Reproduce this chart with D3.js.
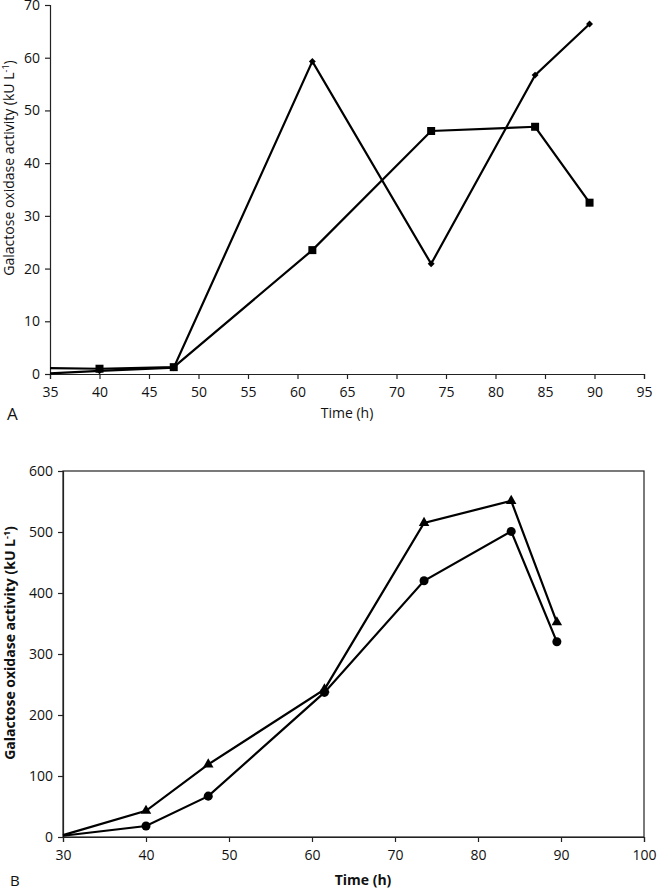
<!DOCTYPE html>
<html><head><meta charset="utf-8">
<script src="https://cdn.jsdelivr.net/npm/d3@7"></script>
<style>body{margin:0;background:#fff}svg{display:block}text{font-family:"Open Sans",sans-serif;fill:#111}</style>
</head><body>
<script>
// Panel A data
const timeA = [35, 40, 47.5, 61.5, 73.5, 84, 89.5];
const diamondA = [0.1, 0.6, 1.2, 59.3, 20.9, 56.7, 66.4];
const squareA = [1.1, 1.0, 1.3, 23.5, 46.1, 46.9, 32.5];
const xTicksA = [35, 40, 45, 50, 55, 60, 65, 70, 75, 80, 85, 90, 95];
const yTicksA = [0, 10, 20, 30, 40, 50, 60, 70];
// Panel B data
const timeB = [30, 40, 47.5, 61.5, 73.5, 84, 89.5];
const triangleB = [3, 43, 119, 242, 515, 551, 352];
const circleB = [2, 18, 67, 237, 420, 501, 320];
const xTicksB = [30, 40, 50, 60, 70, 80, 90, 100];
const yTicksB = [0, 100, 200, 300, 400, 500, 600];
const yLabel = "Galactose oxidase activity (kU L";

const svg = d3.select("body").append("svg").attr("width", 657).attr("height", 890);

function panel(cfg) {
  const g = svg.append("g");
  const x = d3.scaleLinear().domain(cfg.xDomain).range([cfg.left, cfg.right]);
  const y = d3.scaleLinear().domain(cfg.yDomain).range([cfg.bottom, cfg.top]);
  if (cfg.box) {
    g.append("rect").attr("x", cfg.left).attr("y", cfg.top)
      .attr("width", cfg.right - cfg.left).attr("height", cfg.bottom - cfg.top)
      .attr("fill", "none").attr("stroke", "#222").attr("stroke-width", 1.2);
  }
  const xa = g.append("g").attr("transform", `translate(0,${cfg.bottom})`)
    .call(d3.axisBottom(x).tickValues(cfg.xTicks).tickSize(5).tickPadding(8).tickFormat(d3.format("d")));
  const ya = g.append("g").attr("transform", `translate(${cfg.left},0)`)
    .call(d3.axisLeft(y).tickValues(cfg.yTicks).tickSize(5).tickPadding(5).tickFormat(d3.format("d")));
  [xa, ya].forEach(a => {
    a.selectAll("path").attr("stroke", "#222").attr("stroke-width", 1.2);
    a.selectAll("line").attr("stroke", "#222").attr("stroke-width", 1.2);
    a.selectAll("text").style("font-size", "14px").style("font-family", '"Open Sans",sans-serif').attr("fill", "#111");
  });
  const line = d3.line().x((d, i) => x(cfg.time[i])).y(d => y(d));
  cfg.series.forEach(s => {
    g.append("path").datum(s.values).attr("d", line)
      .attr("fill", "none").attr("stroke", "#000").attr("stroke-width", 2.2).attr("stroke-linejoin", "miter");
    const pts = s.values.map((v, i) => [cfg.time[i], v]).filter(p => p[0] > cfg.xDomain[0]);
    g.selectAll(null).data(pts).enter().append("path")
      .attr("d", d3.symbol().type(s.symbol).size(s.size))
      .attr("fill", "#000").attr("transform", p => `translate(${x(p[0])},${y(p[1])})` + (s.rotate ? " rotate(45)" : ""));
  });
  // y label
  const yl = g.append("text").attr("transform", `translate(${cfg.yLabelX},${cfg.yLabelY}) rotate(-90)`)
    .attr("text-anchor", "middle").style("font-size", "14px").style("font-weight", cfg.bold ? "bold" : "normal");
  yl.append("tspan").text(yLabel);
  yl.append("tspan").attr("dy", -5).style("font-size", "9px").text("-1");
  yl.append("tspan").attr("dy", 5).text(")");
  g.append("text").attr("x", cfg.xLabelX).attr("y", cfg.xLabelY).attr("text-anchor", "middle")
    .style("font-size", "14px").style("font-weight", cfg.bold ? "bold" : "normal").text("Time (h)");
  g.append("text").attr("x", cfg.letterX).attr("y", cfg.letterY).style("font-size", cfg.letterSize).text(cfg.letter);
}

panel({
  xDomain: [35, 95], yDomain: [0, 70], left: 50, right: 644, top: 5, bottom: 374,
  xTicks: xTicksA, yTicks: yTicksA, time: timeA, box: false, bold: false,
  series: [
    {values: diamondA, symbol: d3.symbolSquare, size: 24, rotate: true},
    {values: squareA, symbol: d3.symbolSquare, size: 64}
  ],
  yLabelX: 14, yLabelY: 168, xLabelX: 347, xLabelY: 418,
  letter: "A", letterX: 7, letterY: 420, letterSize: "17px"
});

panel({
  xDomain: [30, 100], yDomain: [0, 600], left: 63, right: 644, top: 471, bottom: 837,
  xTicks: xTicksB, yTicks: yTicksB, time: timeB, box: true, bold: true,
  series: [
    {values: triangleB, symbol: d3.symbolTriangle, size: 48},
    {values: circleB, symbol: d3.symbolCircle, size: 64}
  ],
  yLabelX: 15, yLabelY: 643, xLabelX: 363, xLabelY: 885,
  letter: "B", letterX: 10, letterY: 886, letterSize: "15px"
});
</script>
</body></html>
